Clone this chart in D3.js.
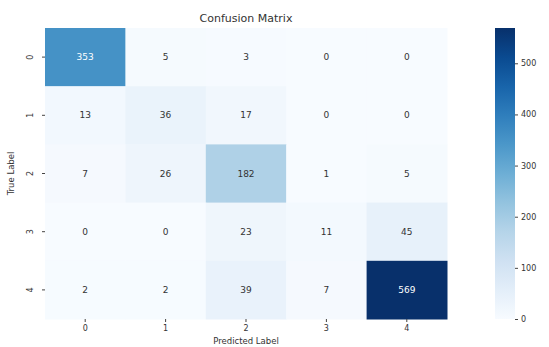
<!DOCTYPE html>
<html lang="en">
<head>
<meta charset="utf-8">
<title>Confusion Matrix</title>
<script src="https://cdn.jsdelivr.net/npm/d3@7"></script>
<style>
  body { margin: 0; background: #fff; }
  text { font-family: "DejaVu Sans", sans-serif; }
</style>
</head>
<body>
<script>
var w = 549, h = 347;

var classes = ["0", "1", "2", "3", "4"];
var row0 = [353, 5, 3, 0, 0];
var row1 = [13, 36, 17, 0, 0];
var row2 = [7, 26, 182, 1, 5];
var row3 = [0, 0, 23, 11, 45];
var row4 = [2, 2, 39, 7, 569];
var matrix = [row0, row1, row2, row3, row4];
var cbTicks = [0, 100, 200, 300, 400, 500];

var plotLeft = 45, plotRight = 447, plotTop = 28, plotBottom = 319;

var cells = [];
matrix.forEach(function(row, i) {
  row.forEach(function(v, j) { cells.push({r: i, c: j, v: v}); });
});
var vmax = d3.max(cells, function(d) { return d.v; });

var x = d3.scaleBand().domain(classes).range([plotLeft, plotRight]);
var y = d3.scaleBand().domain(classes).range([plotTop, plotBottom]);
var color = d3.scaleSequential(d3.interpolateBlues).domain([0, vmax]);

var svg = d3.select("body").append("svg")
  .attr("width", w).attr("height", h);

svg.selectAll("rect.cell")
  .data(cells)
  .enter().append("rect")
  .attr("class", "cell")
  .attr("x", function(d) { return x(classes[d.c]); })
  .attr("y", function(d) { return y(classes[d.r]); })
  .attr("width", x.bandwidth() + 0.5)
  .attr("height", y.bandwidth() + 0.5)
  .attr("fill", function(d) { return color(d.v); });

svg.selectAll("text.ann")
  .data(cells)
  .enter().append("text")
  .attr("class", "ann")
  .attr("x", function(d) { return x(classes[d.c]) + x.bandwidth() / 2; })
  .attr("y", function(d) { return y(classes[d.r]) + y.bandwidth() / 2; })
  .attr("dy", "0.35em")
  .attr("text-anchor", "middle")
  .attr("font-size", "9px")
  .attr("fill", function(d) { return d.v / vmax > 0.55 ? "#fff" : "#333"; })
  .text(function(d) { return d.v; });

// x axis
var xAxis = svg.append("g")
  .attr("transform", "translate(0," + plotBottom + ")")
  .call(d3.axisBottom(x).tickSize(3).tickPadding(3));
xAxis.select(".domain").remove();
xAxis.selectAll("line").attr("stroke", "#444");
xAxis.selectAll("text").attr("font-size", "8px").attr("fill", "#333");

// y axis, labels rotated
var yAxis = svg.append("g")
  .attr("transform", "translate(" + plotLeft + ",0)")
  .call(d3.axisLeft(y).tickSize(3).tickPadding(3));
yAxis.select(".domain").remove();
yAxis.selectAll("line").attr("stroke", "#444");
yAxis.selectAll("text")
  .attr("font-size", "8px").attr("fill", "#333")
  .attr("text-anchor", "middle")
  .attr("x", -12).attr("dy", "0")
  .attr("transform", "rotate(-90,-12,0)");

svg.append("text")
  .attr("x", (plotLeft + plotRight) / 2).attr("y", 22)
  .attr("text-anchor", "middle")
  .attr("font-size", "11px")
  .attr("fill", "#333")
  .text("Confusion Matrix");

svg.append("text")
  .attr("x", (plotLeft + plotRight) / 2).attr("y", 344)
  .attr("text-anchor", "middle")
  .attr("font-size", "8.5px")
  .attr("fill", "#333")
  .text("Predicted Label");

svg.append("text")
  .attr("transform", "translate(14," + (plotTop + plotBottom) / 2 + ") rotate(-90)")
  .attr("text-anchor", "middle")
  .attr("font-size", "8.5px")
  .attr("fill", "#333")
  .text("True Label");

// colorbar
var cbX = 495, cbW = 20;
var cbScale = d3.scaleLinear().domain([0, vmax]).range([plotBottom, plotTop]);
var grad = svg.append("defs").append("linearGradient")
  .attr("id", "cbgrad").attr("x1", 0).attr("y1", 1).attr("x2", 0).attr("y2", 0);
d3.range(0, 1.0001, 0.1).forEach(function(t) {
  grad.append("stop").attr("offset", t).attr("stop-color", d3.interpolateBlues(t));
});
svg.append("rect")
  .attr("x", cbX).attr("y", plotTop)
  .attr("width", cbW).attr("height", plotBottom - plotTop)
  .attr("fill", "url(#cbgrad)");

var cbAxis = svg.append("g")
  .attr("transform", "translate(" + (cbX + cbW) + ",0)")
  .call(d3.axisRight(cbScale).tickValues(cbTicks).tickSize(3).tickPadding(3));
cbAxis.select(".domain").remove();
cbAxis.selectAll("line").attr("stroke", "#444");
cbAxis.selectAll("text").attr("font-size", "8px").attr("fill", "#333");
</script>
</body>
</html>
